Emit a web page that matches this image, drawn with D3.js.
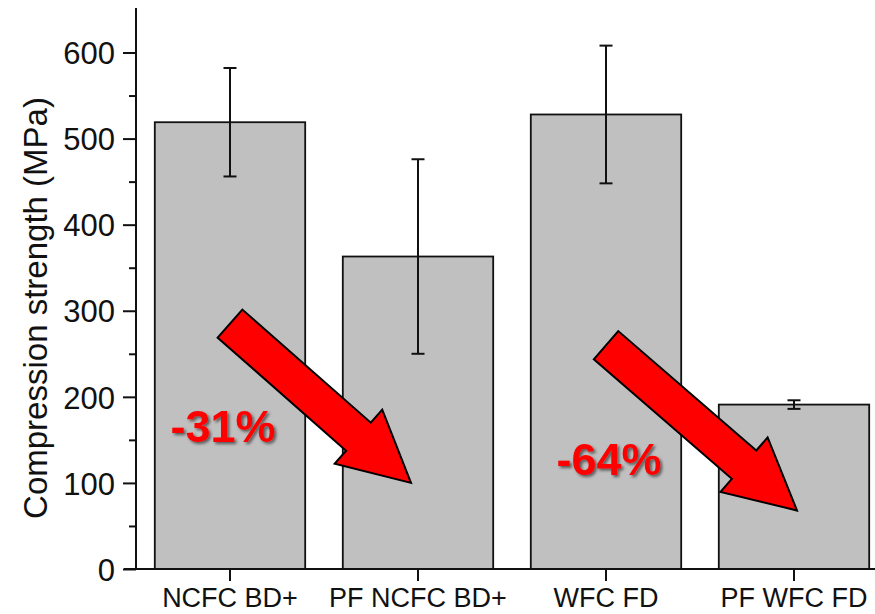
<!DOCTYPE html>
<html>
<head>
<meta charset="utf-8">
<script src="https://cdn.jsdelivr.net/npm/d3@7"></script>
<style>
  html, body { margin: 0; padding: 0; background: #fff; }
  svg { display: block; }
  text { font-family: "Liberation Sans", Arial, sans-serif; }
</style>
</head>
<body>
<svg id="chart" width="875" height="614"></svg>
<script>
// ---- data ----
const categories = ["NCFC BD+", "PF NCFC BD+", "WFC FD", "PF WFC FD"];
const means = [519, 363, 528, 191];
const errors = [63, 113, 80, 5];
const yTicks = [0, 100, 200, 300, 400, 500, 600];
const yMinorTicks = [50, 150, 250, 350, 450, 550];
const yTitle = "Compression strength (MPa)";
// annotations: arrow from category (value) to category (value), with label
const arrowFromCat = [0, 2];
const arrowFromVal = [285, 260];
const arrowToCat = [1, 3];
const arrowToVal = [100, 68];
const arrowLabels = ["-31%", "-64%"];
const arrowLabelVal = [148, 109];

// ---- layout ----
const svg = d3.select("#chart");
const x0 = 136, x1 = 888, yBottom = 569, yTop = 52.5;
const tipShift = [-7, 3];     // px nudges of arrow tips
const labelShift = [-7, 3];   // px nudges of percentage labels

const x = d3.scaleBand().domain(categories).range([x0, x1]).paddingInner(0.2).paddingOuter(0.1);
const y = d3.scaleLinear().domain([0, 600]).range([yBottom, yTop]);

// shadow filter
const defs = svg.append("defs");
const f = defs.append("filter").attr("id", "shadow").attr("x", "-20%").attr("y", "-20%").attr("width", "140%").attr("height", "140%");
f.append("feDropShadow").attr("dx", 2).attr("dy", 2).attr("stdDeviation", 1.5).attr("flood-color", "#000").attr("flood-opacity", 0.55);

// bars
svg.append("g").selectAll("rect").data(categories).join("rect")
  .attr("x", d => x(d))
  .attr("y", (d, i) => y(means[i]))
  .attr("width", x.bandwidth())
  .attr("height", (d, i) => y(0) - y(means[i]))
  .attr("fill", "#c0c0c0")
  .attr("stroke", "#111")
  .attr("stroke-width", 1.8);

// error bars
const eb = svg.append("g").attr("stroke", "#111").attr("stroke-width", 2);
categories.forEach((c, i) => {
  const cx = x(c) + x.bandwidth() / 2;
  const hi = y(means[i] + errors[i]), lo = y(means[i] - errors[i]);
  eb.append("line").attr("x1", cx).attr("x2", cx).attr("y1", hi).attr("y2", lo);
  eb.append("line").attr("x1", cx - 6.5).attr("x2", cx + 6.5).attr("y1", hi).attr("y2", hi);
  eb.append("line").attr("x1", cx - 6.5).attr("x2", cx + 6.5).attr("y1", lo).attr("y2", lo);
});

// y axis
const yAxis = d3.axisLeft(y).tickValues(yTicks).tickSize(13).tickPadding(8).tickSizeOuter(0);
const gy = svg.append("g").attr("transform", `translate(${x0},0)`).call(yAxis);
gy.select(".domain").remove();
gy.selectAll(".tick line").attr("stroke", "#111").attr("stroke-width", 2);
gy.selectAll(".tick text").attr("font-size", 31).attr("fill", "#111")
  .attr("font-family", "'Liberation Sans', Arial, sans-serif").attr("dy", "0.36em");
const gym = svg.append("g").attr("transform", `translate(${x0},0)`)
  .call(d3.axisLeft(y).tickValues(yMinorTicks).tickSize(7).tickFormat(""));
gym.select(".domain").remove();
gym.selectAll(".tick line").attr("stroke", "#111").attr("stroke-width", 2);
svg.append("line").attr("x1", x0).attr("x2", x0).attr("y1", 8).attr("y2", yBottom + 1)
  .attr("stroke", "#111").attr("stroke-width", 2);

// x axis
const xAxis = d3.axisBottom(x).tickSize(12).tickPadding(26).tickSizeOuter(0);
const gx = svg.append("g").attr("transform", `translate(0,${yBottom})`).call(xAxis);
gx.select(".domain").remove();
gx.selectAll(".tick line").attr("stroke", "#111").attr("stroke-width", 2);
gx.selectAll(".tick text").attr("font-size", 27).attr("fill", "#111")
  .attr("font-family", "'Liberation Sans', Arial, sans-serif").attr("dy", "0");
svg.append("line").attr("x1", 124).attr("x2", 875).attr("y1", yBottom).attr("y2", yBottom)
  .attr("stroke", "#111").attr("stroke-width", 2);

// y title
svg.append("text")
  .attr("transform", `translate(47,308) rotate(-90)`)
  .attr("text-anchor", "middle")
  .attr("font-size", 33)
  .attr("fill", "#111")
  .text(yTitle);

// arrows
const shaftHalf = 18.7, headHalf = 36, headLen = 70;
arrowFromCat.forEach((fc, i) => {
  const sx = x(categories[fc]) + x.bandwidth() / 2;
  const sy = y(arrowFromVal[i]);
  const tx = x(categories[arrowToCat[i]]) + x.bandwidth() / 2 + tipShift[i];
  const ty = y(arrowToVal[i]);
  const dx = tx - sx, dy = ty - sy, L = Math.hypot(dx, dy);
  const ux = dx / L, uy = dy / L, nx = -uy, ny = ux;
  const bx = tx - ux * headLen, by = ty - uy * headLen;
  const pts = [
    [sx + nx * shaftHalf, sy + ny * shaftHalf],
    [bx + nx * shaftHalf, by + ny * shaftHalf],
    [bx + nx * headHalf, by + ny * headHalf],
    [tx, ty],
    [bx - nx * headHalf, by - ny * headHalf],
    [bx - nx * shaftHalf, by - ny * shaftHalf],
    [sx - nx * shaftHalf, sy - ny * shaftHalf]
  ];
  svg.append("polygon")
    .attr("points", pts.map(p => p.join(",")).join(" "))
    .attr("fill", "#ff0000")
    .attr("stroke", "#000")
    .attr("stroke-width", 2)
    .attr("stroke-linejoin", "miter");
  svg.append("text")
    .attr("x", sx + labelShift[i])
    .attr("y", y(arrowLabelVal[i]))
    .attr("text-anchor", "middle")
    .attr("font-size", 45)
    .attr("font-weight", "bold")
    .attr("fill", "#ff0000")
    .attr("filter", "url(#shadow)")
    .text(arrowLabels[i]);
});
</script>
</body>
</html>
